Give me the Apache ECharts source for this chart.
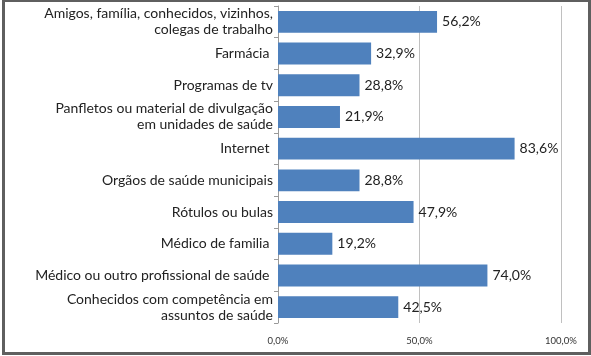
<!DOCTYPE html>
<html>
<head>
<meta charset="utf-8">
<script src="https://cdn.jsdelivr.net/npm/echarts@6/dist/echarts.min.js"></script>
<style>
  html, body { margin: 0; padding: 0; background: #fff; }
  .frame {
    position: absolute; left: 2px; top: 0; width: 583px; height: 350px;
    border: 3px solid #5f5f5f; border-top-width: 2px; background: #fff;
  }
  #chart { position: absolute; left: 0; top: 0; width: 591px; height: 356px; }
</style>
</head>
<body>
<div class="frame"></div>
<div id="chart"></div>
<script>
// categorias e valores (%)
const categories = [
  'Amigos, família, conhecidos, vizinhos,\ncolegas de trabalho',
  'Farmácia ',
  'Programas de tv',
  'Panfletos ou material de divulgação\nem unidades de saúde',
  'Internet ',
  'Orgãos de saúde municipais',
  'Rótulos ou bulas',
  'Médico de familia ',
  'Médico ou outro profissional de saúde ',
  'Conhecidos com competência em\nassuntos de saúde'
];
const values = [56.2, 32.9, 28.8, 21.9, 83.6, 28.8, 47.9, 19.2, 74.0, 42.5];
const xTicks = [0, 50, 100];

const fmt = v => v.toFixed(1).replace('.', ',') + '%';

const chart = echarts.init(document.getElementById('chart'));
chart.setOption({
  animation: false,
  textStyle: { fontFamily: 'Lato, sans-serif' },
  grid: { left: 278, right: 30, top: 6, bottom: 33, containLabel: false },
  xAxis: {
    type: 'value', min: 0, max: 100, interval: 50,
    axisLine: { show: false },
    axisTick: { show: false },
    splitLine: { show: true, lineStyle: { color: '#c0c0c0', width: 1 } },
    axisLabel: {
      color: '#333', fontSize: 9.5, margin: 13,
      formatter: v => xTicks.includes(v) ? fmt(v) : ''
    }
  },
  yAxis: {
    type: 'category', data: categories, inverse: true,
    axisLine: { show: true, lineStyle: { color: '#9a9a9a' } },
    axisTick: { show: true, length: 4, lineStyle: { color: '#9a9a9a' } },
    axisLabel: { color: '#222', fontSize: 14, lineHeight: 16, margin: 5 }
  },
  series: [{
    type: 'bar', data: values, barCategoryGap: '31%',
    itemStyle: { color: '#4f81bd' },
    label: {
      show: true, position: 'right', distance: 5,
      color: '#222', fontSize: 14,
      formatter: p => fmt(p.value)
    }
  }]
});
</script>
</body>
</html>
